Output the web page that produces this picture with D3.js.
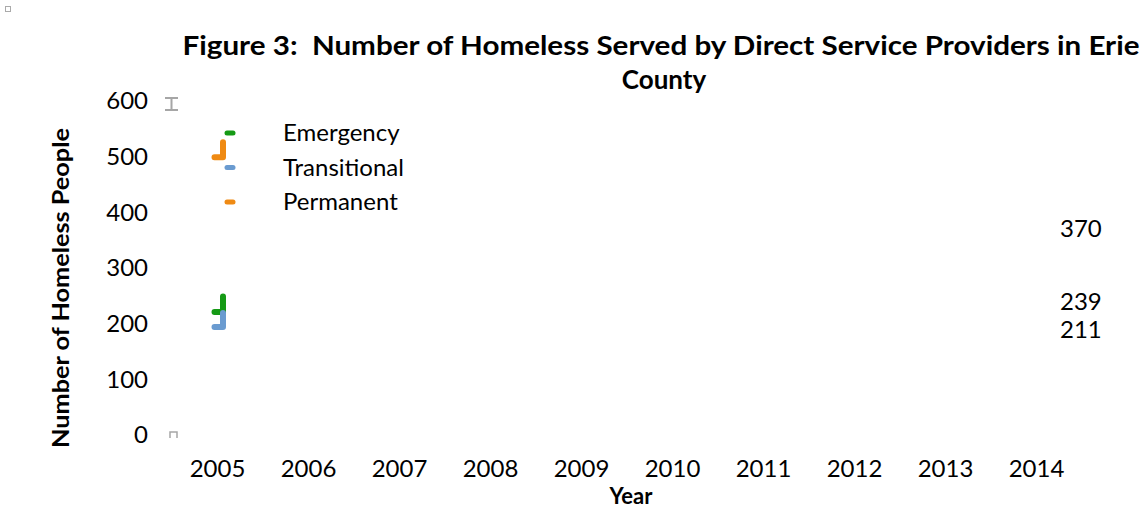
<!DOCTYPE html>
<html>
<head>
<meta charset="utf-8">
<script src="https://cdn.jsdelivr.net/npm/d3@7/dist/d3.min.js"></script>
<style>
  html, body { margin: 0; padding: 0; background: #fff; }
  svg { display: block; font-family: Lato, "Open Sans", sans-serif; }
  .pre { white-space: pre; }
</style>
</head>
<body>
<svg id="chart" width="1144" height="508"></svg>
<script>
// ---- data ----
const years = [2005, 2006, 2007, 2008, 2009, 2010, 2011, 2012, 2013, 2014];
const seriesNames = ["Emergency", "Transitional", "Permanent"];
const seriesColors = ["#159a15", "#6a9bd0", "#ef8a13"];
// values drawn at the first year (a broken stub of each line): base value and top value
const stubBase = [221, 194, 499];
const stubTop = [249, 219, 526];
// data labels of the last year
const lastValues = [239, 211, 370];
const yTicks = [0, 100, 200, 300, 400, 500, 600];
const titleLines = ["Figure 3:  Number of Homeless Served by Direct Service Providers in Erie", "County"];

const svg = d3.select("#chart");
const x = d3.scaleBand().domain(years).range([172, 1082]);
const y = d3.scaleLinear().domain([0, 600]).range([435, 101]);
const cx = d => x(d) + x.bandwidth() / 2;

// tiny artifact square at top left
svg.append("rect").attr("x", 5.5).attr("y", 6.5).attr("width", 5).attr("height", 5)
  .attr("fill", "none").attr("stroke", "#aaa").attr("stroke-width", 1);

// title
svg.append("text").attr("class", "pre").attr("x", 661).attr("y", 55).attr("text-anchor", "middle")
  .attr("font-weight", "bold").attr("font-size", 26).attr("fill", "#000")
  .attr("textLength", 957).attr("lengthAdjust", "spacingAndGlyphs").text(titleLines[0]);
svg.append("text").attr("x", 664).attr("y", 89).attr("text-anchor", "middle")
  .attr("font-weight", "bold").attr("font-size", 26).attr("fill", "#000")
  .text(titleLines[1]);

// y tick labels
svg.append("g").selectAll("text").data(yTicks).join("text")
  .attr("x", 148).attr("y", d => y(d)).attr("dy", "0.35em")
  .attr("text-anchor", "end").attr("font-size", 24).attr("fill", "#000")
  .text(d => d);

// x tick labels
svg.append("g").selectAll("text").data(years).join("text")
  .attr("x", d => cx(d)).attr("y", 469).attr("dy", "0.35em")
  .attr("text-anchor", "middle").attr("font-size", 24).attr("fill", "#000")
  .text(d => d);

// axis titles
svg.append("text").attr("transform", `translate(69,${288}) rotate(-90)`)
  .attr("text-anchor", "middle").attr("font-weight", "bold").attr("font-size", 22)
  .attr("textLength", 320).attr("lengthAdjust", "spacingAndGlyphs")
  .text("Number of Homeless People");
svg.append("text").attr("x", 631).attr("y", 504).attr("text-anchor", "middle")
  .attr("font-weight", "bold").attr("font-size", 22).text("Year");

// axis artifacts (grey caps at plot left edge)
const ax = x.range()[0];
svg.append("path")
  .attr("d", `M${ax - 7},${y(600) - 3}H${ax + 6}M${ax - 7},${y(600) + 9}H${ax + 6}M${ax - 0.5},${y(600) - 3}V${y(600) + 9}`)
  .attr("stroke", "#a6a6a6").attr("stroke-width", 2).attr("fill", "none");
svg.append("path")
  .attr("d", `M${ax - 2},${y(0) + 3}V${y(0) - 3}H${ax + 5}V${y(0) + 3}`)
  .attr("stroke", "#a6a6a6").attr("stroke-width", 1.5).attr("fill", "none");

// series stubs at first year
const line = d3.line().x(d => d[0]).y(d => y(d[1]));
const x0 = cx(years[0]);
seriesNames.forEach((name, i) => {
  const pts = [[x0 - 3, stubBase[i]], [x0 + 5.5, stubBase[i]], [x0 + 5.5, stubTop[i]]];
  svg.append("path").attr("d", line(pts))
    .attr("fill", "none").attr("stroke", seriesColors[i]).attr("stroke-width", 6)
    .attr("stroke-linecap", "round").attr("stroke-linejoin", "round");
});

// end data labels with simple collision avoidance
const lbl = seriesNames.map((n, i) => ({ v: lastValues[i], py: y(lastValues[i]) }))
  .sort((a, b) => a.py - b.py);
for (let i = 1; i < lbl.length; i++) {
  if (lbl[i].py - lbl[i - 1].py < 28) lbl[i].py = lbl[i - 1].py + 28;
}
svg.append("g").selectAll("text").data(lbl).join("text")
  .attr("x", 1060).attr("y", d => d.py).attr("dy", "0.35em")
  .attr("font-size", 24).attr("fill", "#000").text(d => d.v);

// legend
const legendY = d3.scalePoint().domain(seriesNames).range([133, 202]);
const lg = svg.append("g");
seriesNames.forEach((name, i) => {
  lg.append("line").attr("x1", 227).attr("x2", 233)
    .attr("y1", legendY(name)).attr("y2", legendY(name))
    .attr("stroke", seriesColors[i]).attr("stroke-width", 5).attr("stroke-linecap", "round");
  lg.append("text").attr("x", 283).attr("y", legendY(name)).attr("dy", "0.35em")
    .attr("font-size", 24).attr("fill", "#000").text(name);
});
</script>
</body>
</html>
